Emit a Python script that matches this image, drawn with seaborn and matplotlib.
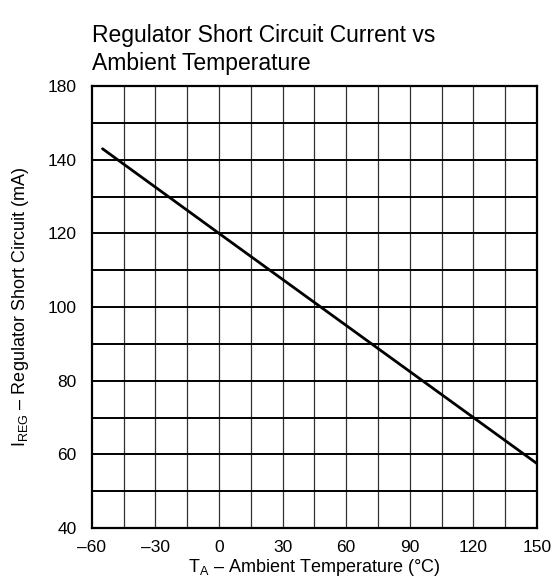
import matplotlib
matplotlib.use("Agg")
import matplotlib.pyplot as plt
import seaborn as sns
import pandas as pd
import numpy as np

# Data
temperature = [-55, 0, 30, 60, 90, 120, 150]
current_ma = [143, 120, 107.5, 95, 82.5, 70, 57.5]

x_ticks = [-60, -30, 0, 30, 60, 90, 120, 150]
x_tick_labels = ["\u201360", "\u201330", "0", "30", "60", "90", "120", "150"]
y_ticks = [40, 60, 80, 100, 120, 140, 160]
y_tick_labels = ["40", "60", "80", "100", "120", "140", "180"]

sns.set_theme(style="white")
plt.rcParams['font.family'] = ['Liberation Sans', 'DejaVu Sans']
plt.rcParams['mathtext.fontset'] = 'custom'
plt.rcParams['mathtext.rm'] = 'Liberation Sans'
plt.rcParams['mathtext.it'] = 'Liberation Sans'

df = pd.DataFrame({"T": temperature, "I": current_ma})

fig = plt.figure(figsize=(5.57, 5.86), dpi=100)
ax = fig.add_axes([0.165, 0.099, 0.799, 0.754])

# grid
for xv in np.arange(-45, 150, 15):
    ax.axvline(xv, color="#333333", lw=0.9, zorder=1)
for yv in np.arange(50, 160, 10):
    ax.axhline(yv, color="black", lw=1.4, zorder=1)

sns.lineplot(data=df, x="T", y="I", ax=ax, color="black", lw=2.0,
             solid_capstyle="round", zorder=3)

ax.set_xlim(-60, 150)
ax.set_ylim(40, 160)
ax.set_xticks(x_ticks)
ax.set_xticklabels(x_tick_labels)
ax.set_yticks(y_ticks)
ax.set_yticklabels(y_tick_labels)
ax.tick_params(axis="x", length=0, labelsize=12.5, colors="black", pad=9)
ax.tick_params(axis="y", length=0, labelsize=12.5, colors="black", pad=11)

for s in ax.spines.values():
    s.set_color("black")
    s.set_linewidth(1.6)
    s.set_visible(True)

ax.set_xlabel(r"$\mathregular{T_A}$ " + "\u2013 Ambient Temperature (\u00b0C)",
              fontsize=13, color="black", labelpad=1)
ax.set_ylabel(r"$\mathregular{I_{REG}}$ " + "\u2013 Regulator Short Circuit (mA)",
              fontsize=13, color="black", labelpad=12)

fig.text(0.165, 0.916, "Regulator Short Circuit Current vs\nAmbient Temperature",
         fontsize=16.5, color="black", ha="left", va="center", linespacing=1.3)

fig.savefig("out.png", dpi=100)
